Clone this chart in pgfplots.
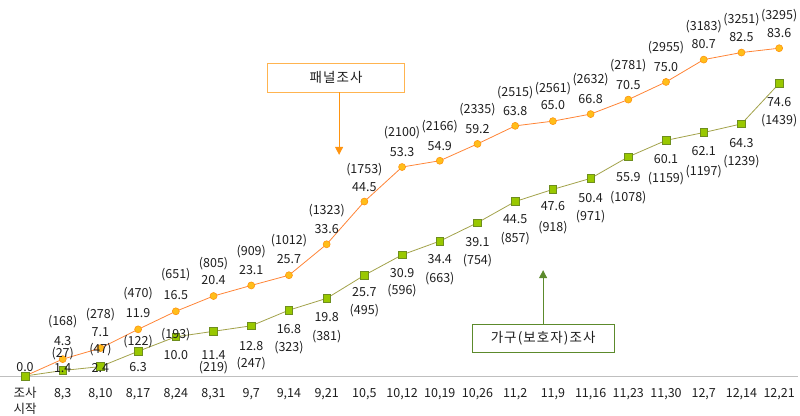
\documentclass[border=0pt]{standalone}
\usepackage{fontspec}
\setmainfont{Noto Sans CJK KR}
\usepackage{pgfplots}
\usepackage{pgfplotstable}
\pgfplotsset{compat=1.18}
\usetikzlibrary{arrows.meta}
\definecolor{oline}{HTML}{FF8436}
\definecolor{ofill}{HTML}{FFBE1A}
\definecolor{oedge}{HTML}{FF9410}
\definecolor{gline}{HTML}{A2A24A}
\definecolor{gfill}{HTML}{99C800}
\definecolor{gedge}{HTML}{6E8E1E}
\definecolor{obox}{HTML}{FFB450}
\definecolor{gbox}{HTML}{5C8A2C}
\definecolor{txt}{HTML}{1E1E1E}
\newcommand\lab{\fontsize{12.5bp}{15bp}\selectfont\color{txt}}
\newcommand\boxfont{\fontsize{13.5bp}{15bp}\selectfont\addfontfeature{LetterSpace=8}\color{txt}}

\pgfplotstableread{
x y v c vdy cdy
0 0.0 0.0 - 9 0
1 4.3 4.3 (168) 18 38
2 7.1 7.1 (278) 16 34
3 11.9 11.9 (470) 16 36
4 16.5 16.5 (651) 16 37
5 20.4 20.4 (805) 16 32
6 23.1 23.1 (909) 15 34
7 25.7 25.7 (1012) 16 35
8 33.6 33.6 (1323) 15 34
9 44.5 44.5 (1753) 14 32
10 53.3 53.3 (2100) 15 34
11 54.9 54.9 (2166) 15 34
12 59.2 59.2 (2335) 15 34
13 63.8 63.8 (2515) 15 33
14 65.0 65.0 (2561) 16 33
15 66.8 66.8 (2632) 15 34
16 70.5 70.5 (2781) 15 34
17 75.0 75.0 (2955) 15 34
18 80.7 80.7 (3183) 16 33
19 82.5 82.5 (3251) 15 33
20 83.6 83.6 (3295) 15 33
}\panel

\pgfplotstableread{
x y v c vdy cdy
0 0.0 0.0 - 0 0
1 1.4 1.4 (27) 2 16.5
2 2.4 2.4 (47) -1.4 16.6
3 6.3 6.3 (122) -15.7 9.8
4 10.0 10.0 (193) -18.2 1.8
5 11.4 11.4 (219) -23.5 -36.5
6 12.8 12.8 (247) -20 -38
7 16.8 16.8 (323) -19 -37
8 19.8 19.8 (381) -19 -38
9 25.7 25.7 (495) -17 -35
10 30.9 30.9 (596) -18 -36
11 34.4 34.4 (663) -18 -37
12 39.1 39.1 (754) -19 -38
13 44.5 44.5 (857) -18 -37
14 47.6 47.6 (918) -17 -38
15 50.4 50.4 (971) -20 -38
16 55.9 55.9 (1078) -20 -41
17 60.1 60.1 (1159) -19 -38
18 62.1 62.1 (1197) -19 -39
19 64.3 64.3 (1239) -19 -38
20 74.6 74.6 (1439) -19 -37
}\house

\begin{document}
\begin{tikzpicture}
\path[use as bounding box] (0,0) rectangle (800bp,416bp);
\begin{axis}[
  at={(0,40bp)}, anchor=south west,
  scale only axis, width=798bp, height=376bp,
  xmin=-0.663, xmax=20.5, ymin=0, ymax=95.9,
  clip=false,
  axis x line=bottom, axis y line=none,
  x axis line style={-, draw=black!25, line width=0.8bp},
  xtick={0,...,20},
  xticklabels={{\begin{tabular}[t]{@{}c@{}}조사\\[1bp]시작\end{tabular}},{8,3},{8,10},{8,17},{8,24},{8,31},{9,7},{9,14},{9,21},{10,5},{10,12},{10,19},{10,26},{11,2},{11,9},{11,16},{11,23},{11,30},{12,7},{12,14},{12,21}},
  major tick length=0pt,
  xticklabel style={font=\lab, anchor=base, inner sep=0pt, yshift=-21bp},
  labelstyle/.style={draw=none, mark=none, nodes near coords, point meta=explicit symbolic,
    every node near coord/.append style={anchor=center, inner sep=0pt, font=\lab}},
]
% panel line
\addplot[color=oline, line width=0.8bp, mark=*, mark size=3.5bp,
  mark options={fill=ofill, draw=oedge, line width=0.6bp}] table[x=x,y=y] {\panel};
% household line
\addplot[color=gline, line width=0.8bp, mark=square*, mark size=3.8bp,
  mark options={fill=gfill, draw=gedge, line width=0.6bp}] table[x=x,y=y] {\house};

% labels (positions: point + offset in px / 3.92 px per unit)
\addplot[labelstyle] table[x=x, y expr=\thisrow{y}+\thisrow{vdy}/3.92, meta=v] {\panel};
\addplot[labelstyle, skip coords between index={0}{1}]
  table[x=x, y expr=\thisrow{y}+\thisrow{cdy}/3.92, meta=c] {\panel};
\addplot[labelstyle, skip coords between index={0}{1}]
  table[x=x, y expr=\thisrow{y}+\thisrow{vdy}/3.92, meta=v] {\house};
\addplot[labelstyle, skip coords between index={0}{1}]
  table[x=x, y expr=\thisrow{y}+\thisrow{cdy}/3.92, meta=c] {\house};

% annotation boxes
\node[draw=obox, line width=1bp, fill=white, minimum width=137bp, minimum height=29bp, inner sep=0pt,
  font=\boxfont] (pb) at (axis cs:8.25,76.1) {패널조사};
\draw[oedge, line width=1bp, -{Triangle[width=8bp,length=8bp]}] (axis cs:8.33,72.4) -- (axis cs:8.33,56.4);
\node[draw=gbox, line width=1bp, fill=white, minimum width=142bp, minimum height=28bp, inner sep=0pt,
  font=\boxfont] (gb) at (axis cs:13.74,9.69) {가구(보호자)조사};
\draw[gbox, line width=1bp, -{Triangle[width=8bp,length=8bp]}] (axis cs:13.74,13.27) -- (axis cs:13.74,27.0);
\end{axis}
\end{tikzpicture}
\end{document}
